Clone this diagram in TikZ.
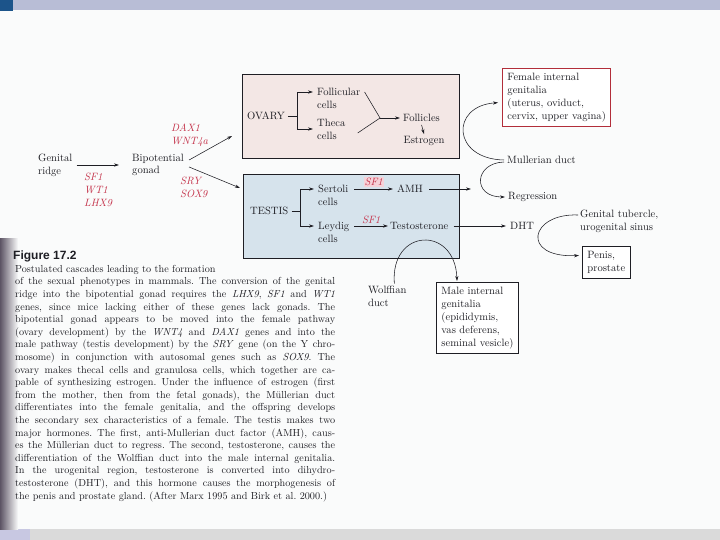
\documentclass[tikz,border=0pt]{standalone}
\usepackage{fontspec}
\newfontfamily\figfont{Liberation Sans}
\usepackage{xcolor}
\usetikzlibrary{arrows.meta,calc,positioning}
\definecolor{genered}{RGB}{196,50,74}
\definecolor{ovaryfill}{RGB}{243,231,229}
\definecolor{testisfill}{RGB}{214,227,236}
\definecolor{barblue}{RGB}{184,189,214}
\definecolor{cornerblue}{RGB}{28,84,138}
\definecolor{inkgray}{RGB}{30,30,36}
\definecolor{femred}{RGB}{178,46,58}
\definecolor{sfpink}{RGB}{246,210,216}
\definecolor{pagewhite}{RGB}{250,251,251}
\definecolor{shadowgray}{RGB}{92,84,100}
\definecolor{footgray}{RGB}{218,218,218}
\definecolor{footlav}{RGB}{200,200,226}
\tikzset{
  txt/.style={inner sep=0pt,text=inkgray,font=\fontsize{10.6}{12.8}\selectfont,align=left},
  gene/.style={txt,text=genered,font=\fontsize{10.6}{12.8}\selectfont\itshape},
  organbox/.style={draw=inkgray,line width=0.9pt,anchor=north west},
  endbox/.style={txt,draw=inkgray,line width=0.9pt,fill=white,inner sep=5pt,anchor=north west},
  flow/.style={-{Stealth[length=5pt,width=3.2pt]},line width=0.55pt,draw=inkgray},
  link/.style={line width=0.55pt,draw=inkgray}
}

\begin{document}
\begin{tikzpicture}[x=1pt,y=-1pt]
  \useasboundingbox (0,0) rectangle (720,540);
  % page, bars and scan shadow
  \fill[pagewhite] (0,0) rectangle (720,540);
  \fill[barblue] (0,0) rectangle (720,10);
  \fill[cornerblue] (0,0) rectangle (13,11);
  \fill[footgray] (30,529) rectangle (720,540);
  \fill[footlav] (0,529) rectangle (30,540);
  \shade[left color=shadowgray,right color=pagewhite] (0,238) rectangle (18,529);

  % gonad stage
  \node[txt,anchor=west] (ridge) at (38,165) {Genital\\ridge};
  \node[gene,anchor=west] (earlygenes) at (84,190) {SF1\\WT1\\LHX9};
  \node[txt,anchor=west] (gonad) at (132,165) {Bipotential\\gonad};
  \node[gene,anchor=west] (femgenes) at (171,135) {DAX1\\WNT4a};
  \node[gene,anchor=west] (malegenes) at (180,187) {SRY\\SOX9};
  \draw[flow] ([xshift=4pt]ridge.east) -- ([xshift=-13pt]gonad.west);

  % ovary
  \node[organbox,fill=ovaryfill,minimum width=217pt,minimum height=84pt] (ovbox) at (242,74) {};
  \coordinate (ovin) at (232,136);
  \draw[flow] ([xshift=5pt,yshift=5pt]gonad.east) -- (ovin);
  \node[txt,anchor=west] (ovary) at (247,116) {OVARY};
  \coordinate (ovfork) at (297,116);
  \node[txt,anchor=west] (follcells) at (317,98) {Follicular\\cells};
  \node[txt,anchor=west] (theca) at (317,129) {Theca\\cells};
  \draw[link] ([xshift=3pt]ovary.east) -- (ovfork);
  \draw[flow] (ovfork) |- ([xshift=-4pt,yshift=6pt]follcells.west);
  \draw[flow] (ovfork) |- ([xshift=-4pt]theca.west);
  \node[txt,anchor=west] (follicles) at (403,118) {Follicles};
  \node[txt] (estrogen) at (424,141) {Estrogen};
  \coordinate (ovjoin) at (380,118);
  \draw[link] ([xshift=4pt,yshift=6pt]follcells.east) -- (ovjoin) -- ([xshift=12pt,yshift=-4pt]theca.east);
  \draw[flow] (ovjoin) -- ([xshift=-3pt]follicles.west);
  \draw[flow] ([yshift=-3pt]follicles.south) -- ([yshift=2pt]estrogen.north);

  % testis
  \node[organbox,fill=testisfill,minimum width=216pt,minimum height=84pt] (tebox) at (243,174) {};
  \coordinate (tein) at (240,188);
  \draw[flow] ([xshift=5pt,yshift=-2pt]gonad.east) -- (tein);
  \node[txt,anchor=west] (testis) at (250,211) {TESTIS};
  \coordinate (tefork) at (300,211);
  \node[txt,anchor=west] (sertoli) at (318,195) {Sertoli\\cells};
  \node[txt,anchor=west] (leydig) at (318,232) {Leydig\\cells};
  \draw[link] ([xshift=3pt]testis.east) -- (tefork);
  \draw[flow] (tefork) |- ([xshift=-4pt,yshift=6pt]sertoli.west);
  \draw[flow] (tefork) |- ([xshift=-4pt,yshift=6pt]leydig.west);
  \node[txt,anchor=west] (amh) at (397,189) {AMH};
  \node[txt,anchor=west] (testo) at (390,226) {Testosterone};
  \draw[flow] ([xshift=6pt,yshift=6pt]sertoli.east) -- ([xshift=-4pt]amh.west)
    node[midway,above=2pt,gene,fill=sfpink,inner sep=1pt] (sfa) {SF1};
  \draw[flow] ([xshift=5pt,yshift=6pt]leydig.east) -- ([xshift=-2pt]testo.west)
    node[midway,above=2pt,gene] (sfb) {SF1};

  % female side
  \node[endbox,draw=femred] (female) at (502,68) {Female internal\\genitalia\\(uterus, oviduct,\\cervix, upper vagina)};
  \node[txt,anchor=west] (mull) at (507,160) {Mullerian duct};
  \node[txt,anchor=west] (regress) at (508,197) {Regression};
  \coordinate (amhout) at (471,189);
  \draw[flow] ([xshift=6pt]amh.east) -- (amhout);
  \draw[flow] ([xshift=-3pt]mull.west) .. controls (452,159) and (450,106) .. ([xshift=-4pt,yshift=-5pt]female.west);
  \draw[flow] ([xshift=-3pt,yshift=-2pt]mull.west) .. controls (474,163) and (472,197) .. ([xshift=-3pt]regress.west);

  % male side
  \node[txt,anchor=west] (dht) at (510,226) {DHT};
  \draw[flow] ([xshift=5pt]testo.east) -- ([xshift=-4pt]dht.west);
  \node[txt,anchor=west] (tuber) at (580,221) {Genital tubercle,\\urogenital sinus};
  \node[endbox] (penis) at (582,246) {Penis,\\prostate};
  \draw[flow] ([xshift=-2pt,yshift=6pt]tuber.west) .. controls (530,213) and (520,258) .. ([xshift=-3pt,yshift=7pt]penis.west);
  \node[endbox] (male) at (436,282) {Male internal\\genitalia\\(epididymis,\\vas deferens,\\seminal vesicle)};
  \node[txt,anchor=west] (wolff) at (368,296) {Wolffian\\duct};
  \draw[flow] ([xshift=7pt,yshift=2pt]wolff.north) .. controls (390,228) and (455,225) .. ([xshift=21pt,yshift=1pt]male.north west);

  % caption
  \node[anchor=west,inner sep=0pt,text=inkgray,font=\fontsize{12}{14}\selectfont\figfont\bfseries] (figno) at (13,256) {Figure 17.2};
  \node[anchor=north west,inner sep=0pt,text width=320pt,align=justify,text=inkgray,font=\fontsize{10.2}{12.6}\selectfont\frenchspacing] (caption) at (15,265) {%
Postulated cascades leading to the formation\\
of the sexual phenotypes in mammals. The conversion of the genital\linebreak
ridge into the bipotential gonad requires the \textit{LHX9}, \textit{SF1} and \textit{WT1}\linebreak
genes, since mice lacking either of these genes lack gonads. The\linebreak
bipotential gonad appears to be moved into the female pathway\linebreak
(ovary development) by the \textit{WNT4} and \textit{DAX1} genes and into the\linebreak
male pathway (testis development) by the \textit{SRY} gene (on the Y chro-\linebreak
mosome) in conjunction with autosomal genes such as \textit{SOX9}. The\linebreak
ovary makes thecal cells and granulosa cells, which together are ca-\linebreak
pable of synthesizing estrogen. Under the influence of estrogen (first\linebreak
from the mother, then from the fetal gonads), the Müllerian duct\linebreak
differentiates into the female genitalia, and the offspring develops\linebreak
the secondary sex characteristics of a female. The testis makes two\linebreak
major hormones. The first, anti-Mullerian duct factor (AMH), caus-\linebreak
es the Müllerian duct to regress. The second, testosterone, causes the\linebreak
differentiation of the Wolffian duct into the male internal genitalia.\linebreak
In the urogenital region, testosterone is converted into dihydro-\linebreak
testosterone (DHT), and this hormone causes the morphogenesis of\linebreak
the penis and prostate gland. (After Marx 1995 and Birk et al. 2000.)};
\end{tikzpicture}
\end{document}
